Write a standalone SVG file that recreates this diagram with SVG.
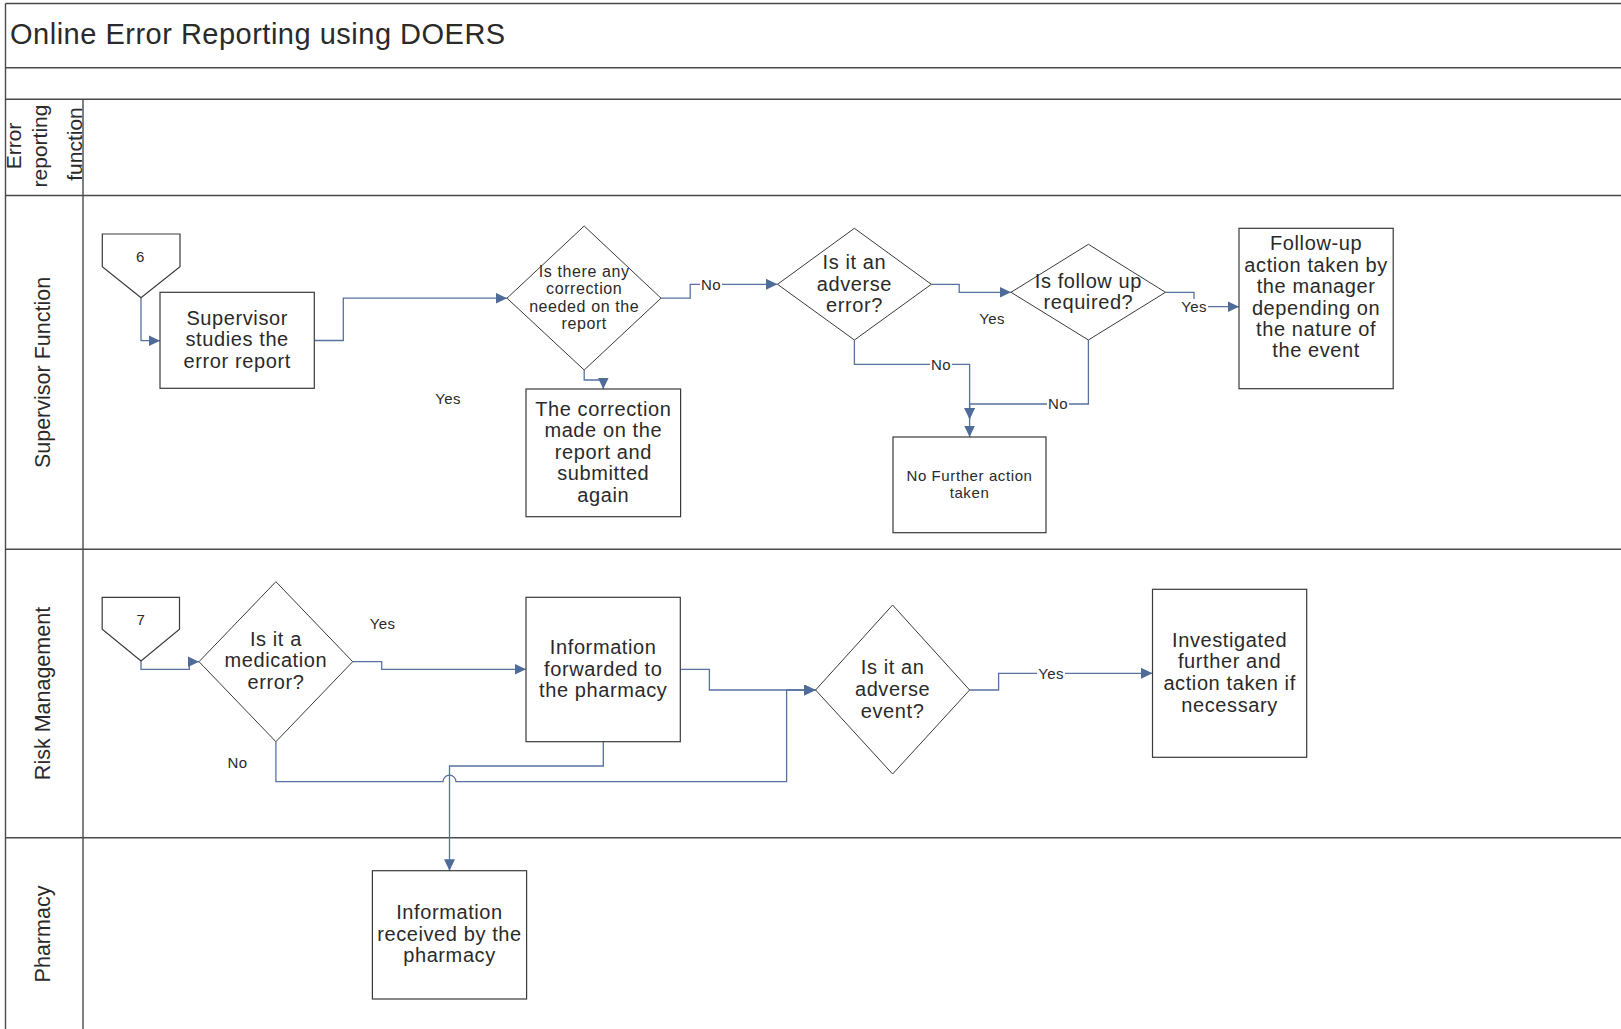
<svg xmlns="http://www.w3.org/2000/svg" width="1621" height="1029" viewBox="0 0 1621 1029">
<style>
text{font-family:"Liberation Sans",Arial,sans-serif;fill:#2a2a2a}
.lane{stroke:#4a4a4a;stroke-width:1.4;fill:none}
.lanelbl{font-size:21.5px;text-anchor:middle}
.title{font-size:29px;letter-spacing:0.5px}
.box{fill:#fff;stroke:#3a3a3a;stroke-width:1.2}
.dia{fill:#fff;stroke:#3a3a3a;stroke-width:1}
.t20{font-size:20px;letter-spacing:0.6px;text-anchor:middle}
.t16{font-size:16px;letter-spacing:0.6px;text-anchor:middle}
.t15{font-size:15px;letter-spacing:0.6px;text-anchor:middle}
.conn{fill:none;stroke:#5672a0;stroke-width:1.3}
.lbl{font-size:15px;letter-spacing:0.4px;text-anchor:middle}
.lblbg{fill:#fff;stroke:none}
</style>
<defs>
<marker id="arr" markerUnits="userSpaceOnUse" markerWidth="12" markerHeight="11" refX="11.5" refY="5.5" orient="auto">
<path d="M0,0 L11.5,5.5 L0,11 z" fill="#4f6b98"/>
</marker>
</defs>
<rect width="1621" height="1029" fill="#fff"/>
<g id="frame">
<line class="lane" x1="5.5" y1="3.5" x2="1621" y2="3.5"/>
<line class="lane" x1="5.5" y1="3.5" x2="5.5" y2="1029"/>
<line class="lane" x1="5.5" y1="67.7" x2="1621" y2="67.7"/>
<line class="lane" x1="5.5" y1="99.3" x2="1621" y2="99.3"/>
<line class="lane" x1="5.5" y1="195.5" x2="1621" y2="195.5"/>
<line class="lane" x1="5.5" y1="549.3" x2="1621" y2="549.3"/>
<line class="lane" x1="5.5" y1="837.8" x2="1621" y2="837.8"/>
<line class="lane" x1="83" y1="99.3" x2="83" y2="1029"/>
<text class="title" x="10" y="43.5">Online Error Reporting using DOERS</text>
<text class="lanelbl" style="font-size:21px" transform="translate(21,146) rotate(-90)">Error</text>
<text class="lanelbl" style="font-size:21px" transform="translate(47,146) rotate(-90)">reporting</text>
<text class="lanelbl" style="font-size:21px" transform="translate(81.5,144) rotate(-90)">function</text>
<text class="lanelbl" transform="translate(50,372.5) rotate(-90)">Supervisor Function</text>
<text class="lanelbl" transform="translate(50,693.5) rotate(-90)">Risk Management</text>
<text class="lanelbl" transform="translate(50,934) rotate(-90)">Pharmacy</text>
</g>
<g id="connectors">
<path class="conn" marker-end="url(#arr)" d="M141,297.7 V340.7 H160"/>
<path class="conn" marker-end="url(#arr)" d="M314.3,340.5 H343.3 V298.2 H507"/>
<path class="conn" marker-end="url(#arr)" d="M584.2,370 V380 H603.3 V389"/>
<path class="conn" marker-end="url(#arr)" d="M661,298.2 H690.2 V284.3 H777.5"/>
<path class="conn" marker-end="url(#arr)" d="M931.3,284.3 H959.2 V292.3 H1011"/>
<path class="conn" marker-end="url(#arr)" d="M854.4,340 V364.3 H969.6 V437"/>
<path class="conn" marker-end="url(#arr)" d="M1088.4,340 V404 H969.6 V419.5"/>
<path class="conn" marker-end="url(#arr)" d="M1165.5,292.3 H1194 V306.7 H1239"/>
<path class="conn" marker-end="url(#arr)" d="M141,661 V669.3 H189.3 V661.7 H199"/>
<path class="conn" marker-end="url(#arr)" d="M352.7,661.7 H381.7 V669.3 H526"/>
<path class="conn" marker-end="url(#arr)" d="M680.3,669.3 H709.4 V690 H815.6"/>
<path class="conn" marker-end="url(#arr)" d="M275.9,741.7 V781.7 H443 A6.5,6.5 0 0 1 456,781.7 H786.6 V690 H815.6"/>
<path class="conn" marker-end="url(#arr)" d="M603.3,741.7 V766 H449.5 V870.7"/>
<path class="conn" marker-end="url(#arr)" d="M969.6,690 H998.6 V673.3 H1152.5"/>
<rect class="lblbg" x="700" y="276" width="22" height="16"/>
<text class="lbl" x="711" y="289.5">No</text>
<rect class="lblbg" x="930" y="356" width="22" height="16"/>
<text class="lbl" x="941" y="369.5">No</text>
<rect class="lblbg" x="1047" y="396" width="22" height="16"/>
<text class="lbl" x="1058" y="409.3">No</text>
<rect class="lblbg" x="1180" y="299" width="28" height="16"/>
<text class="lbl" x="1194" y="312">Yes</text>
<rect class="lblbg" x="1037" y="665" width="28" height="16"/>
<text class="lbl" x="1051" y="678.6">Yes</text>
<text class="lbl" x="448" y="403.8">Yes</text>
<text class="lbl" x="992" y="323.6">Yes</text>
<text class="lbl" x="382.6" y="628.6">Yes</text>
<text class="lbl" x="237.5" y="768">No</text>
</g>
<g id="node-6">
<polygon class="box" points="102.3,234 180,234 180,266.7 141,297.7 102.3,266.7"/>
<text class="t15" x="140.5" y="262.2">6</text>
</g>
<g id="node-supervisor-studies">
<rect class="box" x="160" y="292.3" width="154.3" height="96"/>
<text class="t20" x="237.2" y="324.8">Supervisor</text>
<text class="t20" x="237.2" y="346.3">studies the</text>
<text class="t20" x="237.2" y="367.8">error report</text>
</g>
<g id="node-correction-needed">
<polygon class="dia" points="584.2,226 661,298.2 584.2,370 507,298.2"/>
<text class="t16" x="584.2" y="277">Is there any</text>
<text class="t16" x="584.2" y="294.4">correction</text>
<text class="t16" x="584.2" y="311.6">needed on the</text>
<text class="t16" x="584.2" y="328.8">report</text>
</g>
<g id="node-correction-made">
<rect class="box" x="526" y="389" width="154.6" height="127.7"/>
<text class="t20" x="603.3" y="415.8">The correction</text>
<text class="t20" x="603.3" y="437.4">made on the</text>
<text class="t20" x="603.3" y="459">report and</text>
<text class="t20" x="603.3" y="480.4">submitted</text>
<text class="t20" x="603.3" y="502">again</text>
</g>
<g id="node-adverse-error">
<polygon class="dia" points="854.4,228.3 931.3,284.3 854.4,340 777.5,284.3"/>
<text class="t20" x="854.4" y="268.8">Is it an</text>
<text class="t20" x="854.4" y="290.6">adverse</text>
<text class="t20" x="854.4" y="311.7">error?</text>
</g>
<g id="node-follow-up-required">
<polygon class="dia" points="1088.4,244.3 1165.5,292.3 1088.4,340 1011,292.3"/>
<text class="t20" x="1088.4" y="287.5">Is follow up</text>
<text class="t20" x="1088.4" y="308.7">required?</text>
</g>
<g id="node-follow-up-action">
<rect class="box" x="1239" y="228.3" width="154.2" height="160.4"/>
<text class="t20" x="1316.1" y="249.8">Follow-up</text>
<text class="t20" x="1316.1" y="271.5">action taken by</text>
<text class="t20" x="1316.1" y="293.2">the manager</text>
<text class="t20" x="1316.1" y="314.9">depending on</text>
<text class="t20" x="1316.1" y="336.3">the nature of</text>
<text class="t20" x="1316.1" y="357.3">the event</text>
</g>
<g id="node-no-further-action">
<rect class="box" x="893" y="437" width="153" height="95.7"/>
<text class="t15" x="969.5" y="481">No Further action</text>
<text class="t15" x="969.5" y="497.8">taken</text>
</g>
<g id="node-7">
<polygon class="box" points="102.2,597.3 179.5,597.3 179.5,629.3 141,661 102.2,629.3"/>
<text class="t15" x="141" y="625">7</text>
</g>
<g id="node-medication-error">
<polygon class="dia" points="275.9,581.7 352.7,661.7 275.9,741.7 199,661.7"/>
<text class="t20" x="275.9" y="645.8">Is it a</text>
<text class="t20" x="275.9" y="667.3">medication</text>
<text class="t20" x="275.9" y="688.7">error?</text>
</g>
<g id="node-info-forwarded">
<rect class="box" x="526" y="597.3" width="154.3" height="144.4"/>
<text class="t20" x="603.2" y="653.8">Information</text>
<text class="t20" x="603.2" y="675.6">forwarded to</text>
<text class="t20" x="603.2" y="697">the pharmacy</text>
</g>
<g id="node-adverse-event">
<polygon class="dia" points="892.6,605 969.6,690 892.6,774 815.6,690"/>
<text class="t20" x="892.6" y="673.8">Is it an</text>
<text class="t20" x="892.6" y="695.8">adverse</text>
<text class="t20" x="892.6" y="717.6">event?</text>
</g>
<g id="node-investigated">
<rect class="box" x="1152.5" y="589.3" width="154.2" height="168"/>
<text class="t20" x="1229.6" y="647.2">Investigated</text>
<text class="t20" x="1229.6" y="668.4">further and</text>
<text class="t20" x="1229.6" y="690">action taken if</text>
<text class="t20" x="1229.6" y="711.8">necessary</text>
</g>
<g id="node-info-received">
<rect class="box" x="372.4" y="870.7" width="154.2" height="128.3"/>
<text class="t20" x="449.5" y="919.2">Information</text>
<text class="t20" x="449.5" y="940.8">received by the</text>
<text class="t20" x="449.5" y="962">pharmacy</text>
</g>
</svg>
